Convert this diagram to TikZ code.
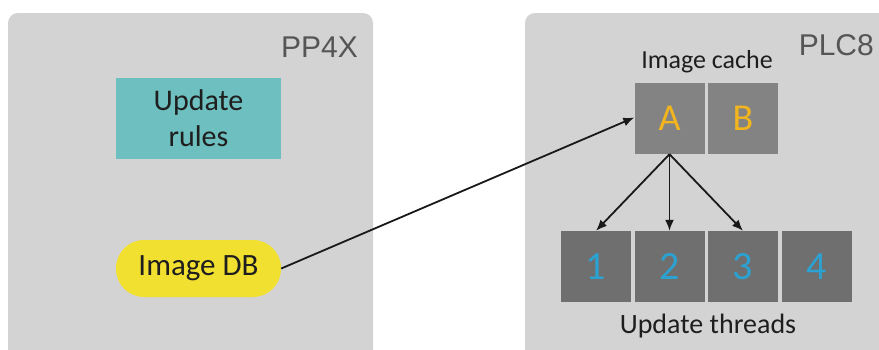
\documentclass[tikz,border=0pt]{standalone}
\usepackage{fontspec}
\setmainfont{Carlito}
\newfontfamily\arialfont{Liberation Sans}
\usetikzlibrary{arrows.meta}
\definecolor{panel}{HTML}{D3D3D3}
\definecolor{teal}{HTML}{6EBFBF}
\definecolor{dbyellow}{HTML}{F2E030}
\definecolor{cachegray}{HTML}{838383}
\definecolor{threadgray}{HTML}{6F6F6F}
\definecolor{letterorange}{HTML}{F2B51E}
\definecolor{digitblue}{HTML}{2BA2D2}
\definecolor{labelgray}{HTML}{555555}
\definecolor{textdark}{HTML}{1E1E1E}
\tikzset{
  panelbox/.style={fill=panel, draw=none, rounded corners=10pt},
  cachebox/.style={fill=cachegray, draw=none, minimum width=70pt, minimum height=71pt, inner sep=0pt, text=letterorange, font=\fontsize{38}{38}\selectfont},
  threadbox/.style={fill=threadgray, draw=none, minimum width=70pt, minimum height=71pt, inner sep=0pt, text=digitblue, font=\fontsize{40}{40}\selectfont},
  conn/.style={line width=1.8pt, draw=black!90, -{Latex[length=11pt,width=9pt]}},
  panellabel/.style={font=\arialfont\fontsize{30}{30}\selectfont, text=labelgray, inner sep=0pt},
}
\begin{document}
\begin{tikzpicture}[x=1pt,y=-1pt]
\useasboundingbox (0,0) rectangle (879,349);
\fill[white] (0,0) rectangle (879,349);
% panels
\begin{scope}
\clip (0,0) rectangle (879,349);
\fill[panelbox] (8,13) rectangle (373,370);
\fill[panelbox] (525,13) rectangle (900,370);
\end{scope}
\node[panellabel, anchor=base east] (pp) at (358,57) {PP4X};
\node[panellabel, anchor=base east] (plc) at (874,55) {PLC8};
% left nodes
\node[fill=teal, minimum width=165pt, minimum height=81pt, inner sep=0pt, align=center, text=textdark, font=\fontsize{30}{36}\selectfont] (rules) at (198.5,118.5) {Update\\rules};
\node[fill=dbyellow, minimum width=165pt, minimum height=57pt, inner sep=0pt, rounded corners=28pt, text=textdark, font=\fontsize{31}{31}\selectfont] (db) at (198.5,268.5) {Image DB};
% cache
\node[font=\fontsize{26}{26}\selectfont, text=textdark, inner sep=0pt] (cachelbl) at (707,62) {Image cache};
\node[cachebox] (A) at (669.5,118.5) {A};
\node[cachebox] (B) at (743,118.5) {B};
% threads
\node[threadbox] (t1) at (596,266.5) {1};
\node[threadbox] (t2) at (669.5,266.5) {2};
\node[threadbox] (t3) at (743,266.5) {3};
\node[threadbox] (t4) at (817,266.5) {4};
\node[font=\fontsize{28}{28}\selectfont, text=textdark, inner sep=0pt] (thrlbl) at (708,326) {Update threads};
% connectors
\draw[conn] (db.east) -- ([yshift=1pt]A.west);
\draw[conn] (A.south) -- (t1.north);
\draw[conn] (A.south) -- (t2.north);
\draw[conn] (A.south) -- (t3.north);
\end{tikzpicture}
\end{document}
